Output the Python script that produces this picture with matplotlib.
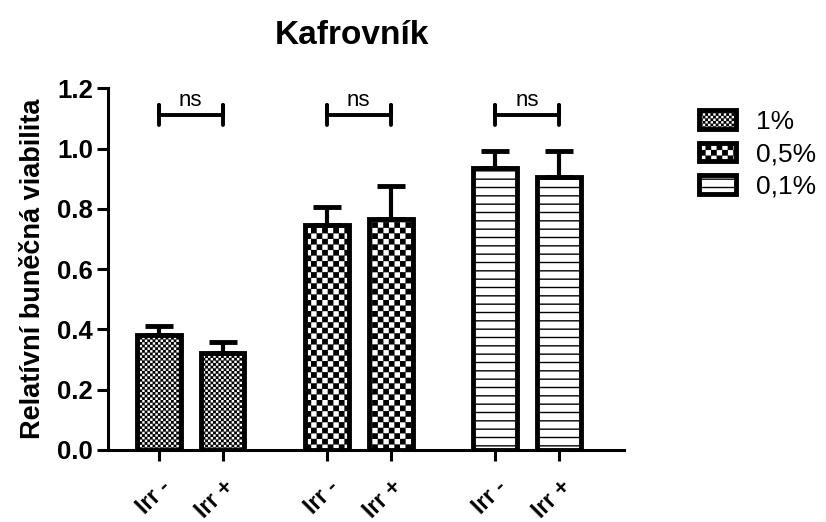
import numpy as np
import matplotlib
matplotlib.use('Agg')
import matplotlib.pyplot as plt
import matplotlib.hatch as mhatch
from matplotlib.path import Path
from matplotlib.transforms import ScaledTranslation


# checker hatch: 'o' = fine checker, 'O' = coarse checker
class CheckerHatch(mhatch.HatchPatternBase):
    def __init__(self, hatch, density):
        self.n = 38 * hatch.count('o') + 18 * hatch.count('O')
        self.num_vertices = (self.n * self.n // 2) * 5 if self.n else 0

    def set_vertices_and_codes(self, vertices, codes):
        n = self.n
        s = 1.0 / n
        d = 0.006
        k = 0
        for i in range(n):
            for j in range(n):
                if (i + j) % 2:
                    continue
                x0, y0 = i * s + d, j * s + d
                x1, y1 = (i + 1) * s - d, (j + 1) * s - d
                vertices[k:k + 5] = [(x0, y0), (x1, y0), (x1, y1), (x0, y1), (x0, y0)]
                codes[k:k + 5] = [Path.MOVETO, Path.LINETO, Path.LINETO, Path.LINETO, Path.CLOSEPOLY]
                k += 5


mhatch._hatch_types = [mhatch.HorizontalHatch, mhatch.VerticalHatch,
                       mhatch.NorthEastHatch, mhatch.SouthEastHatch,
                       mhatch.SmallFilledCircles, mhatch.Stars, CheckerHatch]

plt.rcParams['font.family'] = ['Liberation Sans', 'DejaVu Sans']
plt.rcParams['hatch.linewidth'] = 1.0

# data
concentrations = ['1%', '0,5%', '0,1%']
conditions = ['Irr -', 'Irr +']
viab_irr_minus = [0.381, 0.746, 0.935]
viab_irr_plus = [0.320, 0.766, 0.905]
err_irr_minus = [0.030, 0.059, 0.056]
err_irr_plus = [0.038, 0.109, 0.086]
sig_labels = ['ns', 'ns', 'ns']

hatches = ['o', 'O', '--']
offset = 0.19
width = 0.26

fig = plt.figure(figsize=(8.26, 5.22), dpi=100)
ax = fig.add_axes([0.131, 0.138, 0.624, 0.693])

groups = np.arange(len(concentrations))
tick_pos = []
tick_lab = []
for g in groups:
    xs = [g - offset, g + offset]
    vals = [viab_irr_minus[g], viab_irr_plus[g]]
    errs = [err_irr_minus[g], err_irr_plus[g]]
    ax.errorbar(xs, vals, yerr=[[0, 0], errs], fmt='none', ecolor='black',
                elinewidth=3, capsize=10, capthick=3.5, zorder=2)
    ax.bar(xs, vals, width=width, facecolor='white', edgecolor='black',
           linewidth=3.5, hatch=hatches[g], label=concentrations[g], zorder=3)
    # significance bracket
    yb = 1.11
    ax.plot([xs[0], xs[0], xs[0], xs[1], xs[1], xs[1]],
            [yb - 0.033, yb + 0.033, yb, yb, yb + 0.033, yb - 0.033],
            color='black', lw=2.8, solid_capstyle='round', zorder=4)
    ax.text(g, yb + 0.014, sig_labels[g], ha='center', va='bottom', fontsize=16)
    tick_pos += xs
    tick_lab += conditions

ax.set_xlim(-0.49, 2.575)
ax.set_ylim(0, 1.2)
ax.set_yticks(np.arange(0, 1.21, 0.2))
ax.set_yticklabels(['%.1f' % v for v in np.arange(0, 1.21, 0.2)],
                   fontsize=18.5, fontweight='bold')
ax.set_xticks(tick_pos)
ax.set_xticklabels(tick_lab, rotation=45, ha='right', rotation_mode='anchor',
                   fontsize=16.5, fontweight='bold')
shift = ScaledTranslation(6 / 72, 0, fig.dpi_scale_trans)
for lab in ax.get_xticklabels():
    lab.set_transform(lab.get_transform() + shift)
ax.tick_params(axis='y', length=8, width=2.2, pad=3)
ax.tick_params(axis='x', length=8, width=2.2, pad=10)

for side in ['top', 'right']:
    ax.spines[side].set_visible(False)
for side in ['left', 'bottom']:
    ax.spines[side].set_linewidth(2.2)

ax.set_ylabel('Relatívní buněčná viabilita', fontsize=19.5, fontweight='bold', labelpad=8)
fig.text(0.426, 0.932, 'Kafrovník', fontsize=24, fontweight='bold',
         ha='center', va='center')

leg = ax.legend(loc='upper left', bbox_to_anchor=(0.834, 0.81),
                bbox_transform=fig.transFigure, frameon=False, fontsize=19,
                handlelength=1.4, handleheight=0.7, handletextpad=0.75,
                labelspacing=0.32, borderaxespad=0)
for p in leg.get_patches():
    p.set_linewidth(3.5)

fig.savefig('out.png', dpi=100)
